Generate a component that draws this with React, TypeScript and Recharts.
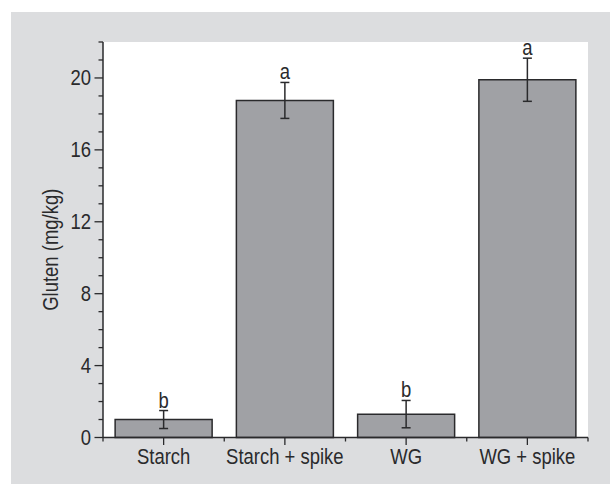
import React from 'react';
import { BarChart, Bar, XAxis, YAxis, ErrorBar, LabelList, CartesianGrid } from 'recharts';

const categories = ['Starch', 'Starch + spike', 'WG', 'WG + spike'];
const means = [1.0, 18.75, 1.3, 19.9];
const errors = [0.5, 1.0, 0.76, 1.2];
const letters = ['b', 'a', 'b', 'a'];
const yTicks = [0, 1, 2, 3, 4, 5, 6, 7, 8, 9, 10, 11, 12, 13, 14, 15, 16, 17, 18, 19, 20, 21, 22];
const yLabels = [0, 4, 8, 12, 16, 20];

const data = categories.map((c, i) => ({ name: c, mean: means[i], err: errors[i], letter: letters[i] }));

const INK = '#2a2a2c';
const FONT = '"Liberation Sans", Arial, sans-serif';
const SX = 0.84;
const W = 610;
const H = 484;
const M = { top: 42, right: 22, bottom: 16.5, left: 43 };
const YW = 60;
const PLOT_W = W - M.left - M.right - YW;

const NText = ({ x, y, anchor, size, rotate, children }: any) => (
  <text
    transform={`translate(${x},${y})${rotate ? ` rotate(${rotate})` : ''} scale(${SX},1)`}
    textAnchor={anchor}
    fontSize={size}
    fontFamily={FONT}
    fill={INK}
  >
    {children}
  </text>
);

const YTick = (props: any) => {
  const { x, y, payload } = props;
  const v = payload.value;
  const major = yLabels.includes(v);
  return (
    <g>
      <line x1={x - (major ? 8.5 : 4.5)} x2={x} y1={y} y2={y} stroke={INK} strokeWidth={1.3} />
      {major && (
        <NText x={x - 12} y={y + 7.5} anchor="end" size={22}>
          {v}
        </NText>
      )}
    </g>
  );
};

const XTick = (props: any) => {
  const { x, y, payload, index } = props;
  const half = payload && typeof payload.offset === 'number' && payload.offset > 0 ? payload.offset : PLOT_W / categories.length / 2;
  return (
    <g>
      <line x1={x} x2={x} y1={y} y2={y + 7.5} stroke={INK} strokeWidth={1.3} />
      <line x1={x + half} x2={x + half} y1={y} y2={y + 4} stroke={INK} strokeWidth={1.3} />
      {index === 0 && <line x1={x - half} x2={x - half} y1={y} y2={y + 4} stroke={INK} strokeWidth={1.3} />}
      <NText x={x} y={y + 26} anchor="middle" size={22}>
        {payload.value}
      </NText>
    </g>
  );
};

const LetterLabel = (props: any) => {
  const { x, y, width, height, value, index } = props;
  const pxPerUnit = value ? height / value : 0;
  const errTop = y - errors[index] * pxPerUnit;
  return (
    <NText x={x + width / 2} y={errTop - 3} anchor="middle" size={22}>
      {letters[index]}
    </NText>
  );
};

const YLabel = (props: any) => {
  const vb = props.viewBox || {};
  const cy = (vb.y ?? 42) + (vb.height ?? 395) / 2 + 10;
  return (
    <NText x={58} y={cy} anchor="middle" size={22} rotate={-90}>
      Gluten (mg/kg)
    </NText>
  );
};

export default function App() {
  return (
    <div style={{ position: 'absolute', left: 0, top: 0, width: W, height: H }}>
      <div style={{ position: 'absolute', left: 11, top: 12, width: W - 11, height: H - 12, background: '#dcdddf' }} />
      <div style={{ position: 'absolute', left: 0, top: 0 }}>
        <BarChart width={W} height={H} data={data} margin={M} barCategoryGap="10%">
          <CartesianGrid horizontal={false} vertical={false} fill="#ffffff" />
          <XAxis
            dataKey="name"
            height={30}
            tickLine={false}
            tickSize={0}
            tickMargin={0}
            axisLine={{ stroke: INK, strokeWidth: 1.5 }}
            tick={<XTick />}
            interval={0}
          />
          <XAxis
            xAxisId="top"
            dataKey="name"
            orientation="top"
            height={0}
            tick={false}
            tickLine={false}
            axisLine={{ stroke: INK, strokeWidth: 1.5 }}
          />
          <YAxis
            width={YW}
            domain={[0, 22]}
            ticks={yTicks}
            interval={0}
            tickLine={false}
            tickSize={0}
            tickMargin={0}
            axisLine={{ stroke: INK, strokeWidth: 1.5 }}
            tick={<YTick />}
            label={<YLabel />}
          />
          <YAxis
            yAxisId="right"
            orientation="right"
            width={0}
            domain={[0, 22]}
            tick={false}
            tickLine={false}
            axisLine={{ stroke: INK, strokeWidth: 1.5 }}
          />
          <Bar dataKey="mean" fill="#a0a1a5" stroke={INK} strokeWidth={1.5} isAnimationActive={false}>
            <ErrorBar dataKey="err" width={4.5} stroke={INK} strokeWidth={1.5} direction="y" />
            <LabelList dataKey="mean" content={<LetterLabel />} />
          </Bar>
        </BarChart>
      </div>
    </div>
  );
}
